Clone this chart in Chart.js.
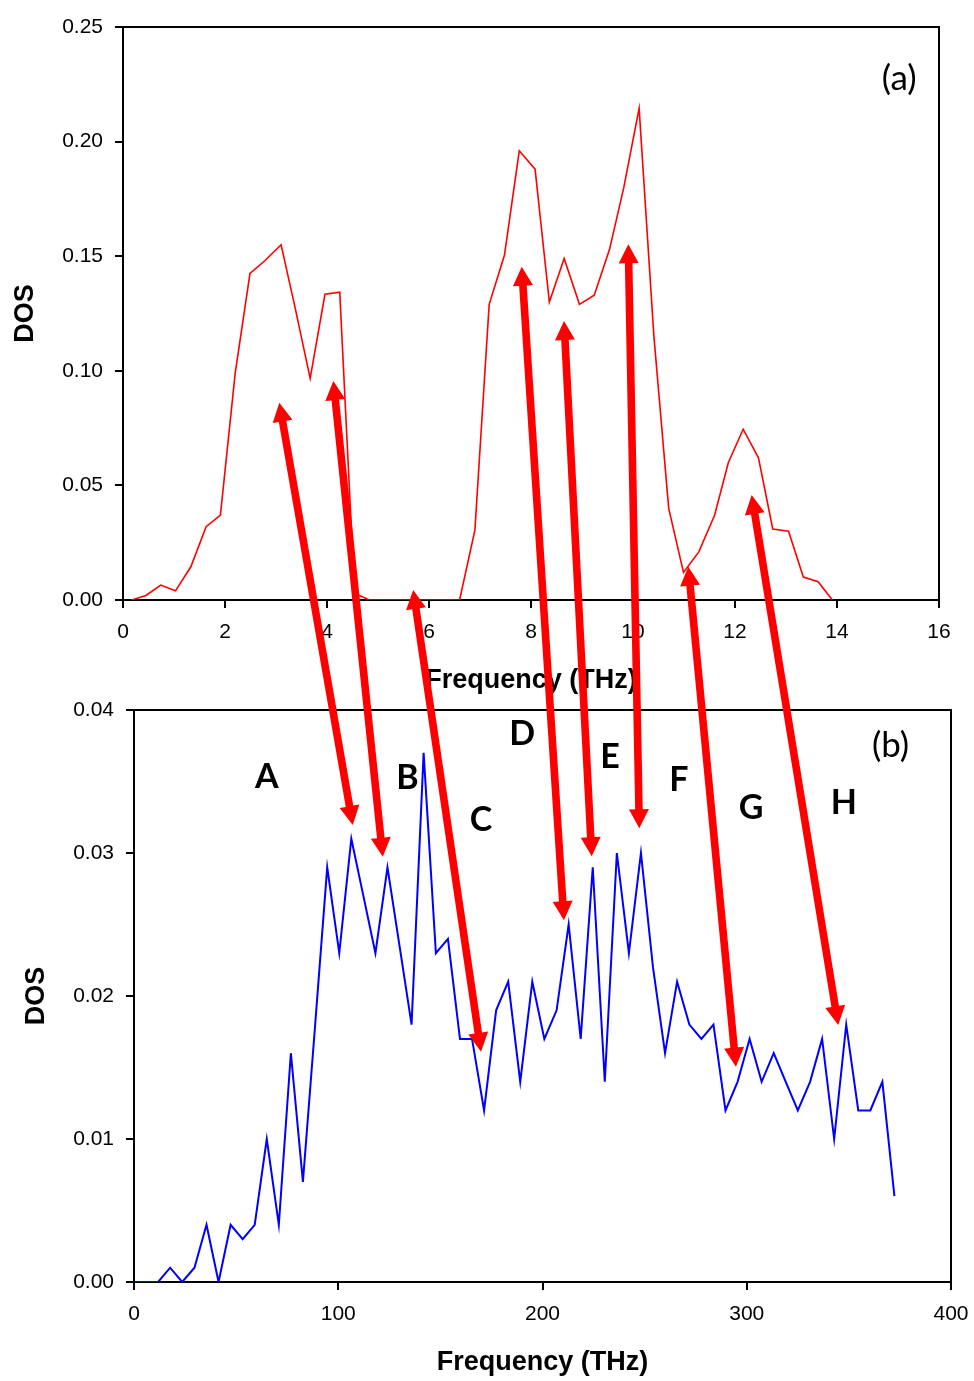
<!DOCTYPE html>
<html><head><meta charset="utf-8">
<script src="https://cdn.jsdelivr.net/npm/chart.js@4.4.1/dist/chart.umd.min.js"></script>
<style>
html,body{margin:0;padding:0;background:#fff;}
#wrap{position:relative;width:974px;height:1381px;overflow:hidden;background:#fff;}
canvas{position:absolute;left:0;}
#c1{top:0;} #c2{top:681px;} #ov{top:0;pointer-events:none;}
</style></head><body>
<div id="wrap">
<canvas id="c1" width="974" height="700"></canvas>
<canvas id="c2" width="974" height="700"></canvas>
<canvas id="ov" width="974" height="1381"></canvas>
</div>
<script>
// ---- Panel (a) data ----
const topFreq = [0.17,0.45,0.74,1.03,1.33,1.63,1.91,2.20,2.49,2.78,3.10,3.37,3.67,3.96,4.25,4.54,4.83,5.12,5.41,5.71,6.00,6.30,6.60,6.90,7.18,7.48,7.77,8.08,8.36,8.65,8.95,9.24,9.54,9.82,10.12,10.41,10.70,10.99,11.29,11.60,11.87,12.16,12.46,12.74,13.05,13.34,13.63,13.91];
const topDos = [0,0.002,0.0065,0.004,0.0145,0.032,0.037,0.099,0.1425,0.148,0.155,0.128,0.0967,0.1334,0.1343,0.003,0,0,0,0,0,0,0,0.0305,0.129,0.1505,0.196,0.188,0.130,0.149,0.129,0.133,0.153,0.180,0.2145,0.115,0.040,0.012,0.021,0.037,0.060,0.0745,0.062,0.031,0.030,0.010,0.008,0];
const topXTicks = [0,2,4,6,8,10,12,14,16];
const topYTicks = [0,0.05,0.10,0.15,0.20,0.25];

// ---- Panel (b) data ----
const botFreq = [0,5.9,11.8,17.7,23.6,29.6,35.5,41.4,47.3,53.2,59.1,65.0,70.9,76.8,82.7,88.7,94.6,100.5,106.4,112.3,118.2,124.1,130.0,135.9,141.8,147.8,153.7,159.6,165.5,171.4,177.3,183.2,189.1,195.0,200.9,206.9,212.8,218.7,224.6,230.5,236.4,242.3,248.2,254.1,260.0,265.9,271.9,277.8,283.7,289.6,295.5,301.4,307.3,313.2,319.1,325.0,331.0,336.9,342.8,348.7,354.6,360.5,366.4,372.3];
const botDos = [0,0,0,0.001,0,0.001,0.004,0,0.004,0.003,0.004,0.010,0.004,0.016,0.007,0.018,0.029,0.023,0.031,0.027,0.023,0.029,0.0235,0.018,0.037,0.023,0.024,0.017,0.017,0.012,0.019,0.021,0.014,0.021,0.017,0.019,0.025,0.017,0.029,0.014,0.030,0.023,0.030,0.022,0.016,0.021,0.018,0.017,0.018,0.012,0.014,0.017,0.014,0.016,0.014,0.012,0.014,0.017,0.010,0.018,0.012,0.012,0.014,0.006];
const botXTicks = [0,100,200,300,400];
const botYTicks = [0,0.01,0.02,0.03,0.04];

// ---- Peak letters (panel b, data coords) ----
const peakNames = ['A','B','C','D','E','F','G','H'];
const peakFreq  = [65.0,133.9,169.9,190.1,233.0,266.8,302.1,347.6];
const peakDos   = [0.03455,0.03445,0.03154,0.03755,0.03594,0.03434,0.03238,0.03273];

// ---- Arrows: tip in panel (a) <-> tip in panel (b) ----
const arrowTopFreq = [3.065,4.124,5.69,7.818,8.647,9.908,11.084,12.327];
const arrowTopDos  = [0.0861,0.0955,0.0044,0.1454,0.1217,0.1552,0.01453,0.0458];
const arrowBotFreq = [107.1,121.8,169.9,210.5,224.1,247.4,294.7,344.8];
const arrowBotDos  = [0.03196,0.02974,0.0161,0.0253,0.02977,0.03173,0.01506,0.01797];

const TICK_FONT = {family:'"Liberation Sans", Arial, sans-serif', size:21};
const TITLE_FONT = {family:'"Liberation Sans", Arial, sans-serif', size:27, weight:'bold'};

function makeAxis(min,max,ticksArr,fmt,isY,fitSize,titleText,titlePad){
  return {
    type:'linear', min:min, max:max,
    afterBuildTicks: s => { s.ticks = ticksArr.map(v => ({value:v})); },
    afterFit: s => {
      if (isY) { s.width = fitSize; s.paddingTop = 0; s.paddingBottom = 0; }
      else { s.height = fitSize; s.paddingLeft = 0; s.paddingRight = 0; }
    },
    ticks:{color:'#000', font:TICK_FONT, padding:12, maxRotation:0, autoSkip:false,
           callback: v => fmt(v)},
    grid:{display:true, drawOnChartArea:false, drawTicks:true, tickLength:8, color:'#000', lineWidth:2},
    border:{display:true, color:'#000', width:2},
    title:{display:true, text:titleText, color:'#000', font:TITLE_FONT, padding:titlePad}
  };
}

const boxPlugin = {
  id:'box',
  afterDraw(chart){
    const {ctx, chartArea:a} = chart;
    ctx.save();
    ctx.strokeStyle = '#000'; ctx.lineWidth = 2;
    ctx.beginPath();
    ctx.moveTo(a.left, a.top); ctx.lineTo(a.right, a.top); ctx.lineTo(a.right, a.bottom);
    ctx.stroke();
    ctx.restore();
  }
};

const panelLabelA = {
  id:'panelA',
  afterDraw(chart){
    const {ctx, scales} = chart;
    ctx.save();
    ctx.fillStyle = '#000';
    ctx.font = '35px Lato, "Open Sans", sans-serif';
    ctx.textAlign = 'center'; ctx.textBaseline = 'alphabetic';
    ctx.fillText('(a)', scales.x.getPixelForValue(15.22), scales.y.getPixelForValue(0.2225));
    ctx.restore();
  }
};

const panelLabelB = {
  id:'panelB',
  afterDraw(chart){
    const {ctx, scales} = chart;
    ctx.save();
    ctx.fillStyle = '#000';
    ctx.textAlign = 'center'; ctx.textBaseline = 'alphabetic';
    ctx.font = '35px Lato, "Open Sans", sans-serif';
    ctx.fillText('(b)', scales.x.getPixelForValue(370.4), scales.y.getPixelForValue(0.03671));
    ctx.font = 'bold 34px Lato, "Open Sans", sans-serif';
    for (let i = 0; i < peakNames.length; i++) {
      ctx.fillText(peakNames[i], scales.x.getPixelForValue(peakFreq[i]), scales.y.getPixelForValue(peakDos[i]));
    }
    ctx.restore();
  }
};

const fmt2 = v => Number(v).toFixed(2);
const fmt0 = v => String(Math.round(v));

const chartA = new Chart(document.getElementById('c1'), {
  type:'line',
  data:{datasets:[{
    data: topFreq.map((f,i) => ({x:f, y:topDos[i]})),
    borderColor:'#ff0000', borderWidth:1.6, pointRadius:0, tension:0, fill:false
  }]},
  options:{
    responsive:false, animation:false, devicePixelRatio:1,
    layout:{padding:{left:0, top:27, right:35, bottom:3}},
    plugins:{legend:{display:false}, tooltip:{enabled:false}},
    scales:{
      x: makeAxis(0,16,topXTicks,fmt0,false,97,'Frequency (THz)',{top:0,bottom:0}),
      y: makeAxis(0,0.25,topYTicks,fmt2,true,123,'DOS',{top:9.4,bottom:0})
    }
  },
  plugins:[boxPlugin, panelLabelA]
});

const chartB = new Chart(document.getElementById('c2'), {
  type:'line',
  data:{datasets:[{
    data: botFreq.map((f,i) => ({x:f, y:botDos[i]})),
    borderColor:'#0000ff', borderWidth:2, pointRadius:0, tension:0, fill:false
  }]},
  options:{
    responsive:false, animation:false, devicePixelRatio:1,
    layout:{padding:{left:0, top:29, right:23, bottom:2}},
    plugins:{legend:{display:false}, tooltip:{enabled:false}},
    scales:{
      x: makeAxis(0,400,botXTicks,fmt0,false,97,'Frequency (THz)',{top:0,bottom:0}),
      y: makeAxis(0,0.04,botYTicks,fmt2,true,134,'DOS',{top:20.4,bottom:0})
    }
  },
  plugins:[boxPlugin, panelLabelB]
});

// ---- Overlay: double-headed arrows linking the two panels ----
function drawArrow(ctx, x1, y1, x2, y2){
  const dx = x2 - x1, dy = y2 - y1, L = Math.hypot(dx, dy);
  const ux = dx / L, uy = dy / L, nx = -uy, ny = ux;
  const hl = 19, hw = 10, sw = 3.8;
  const pts = [
    [x1, y1],
    [x1 + ux*hl + nx*hw, y1 + uy*hl + ny*hw],
    [x1 + ux*hl + nx*sw, y1 + uy*hl + ny*sw],
    [x2 - ux*hl + nx*sw, y2 - uy*hl + ny*sw],
    [x2 - ux*hl + nx*hw, y2 - uy*hl + ny*hw],
    [x2, y2],
    [x2 - ux*hl - nx*hw, y2 - uy*hl - ny*hw],
    [x2 - ux*hl - nx*sw, y2 - uy*hl - ny*sw],
    [x1 + ux*hl - nx*sw, y1 + uy*hl - ny*sw],
    [x1 + ux*hl - nx*hw, y1 + uy*hl - ny*hw]
  ];
  ctx.beginPath();
  ctx.moveTo(pts[0][0], pts[0][1]);
  for (let i = 1; i < pts.length; i++) ctx.lineTo(pts[i][0], pts[i][1]);
  ctx.closePath();
  ctx.fill();
}

(function drawOverlay(){
  const ov = document.getElementById('ov');
  const ctx = ov.getContext('2d');
  const offB = document.getElementById('c2').offsetTop;
  ctx.fillStyle = '#ff0000';
  for (let i = 0; i < arrowTopFreq.length; i++) {
    const x1 = chartA.scales.x.getPixelForValue(arrowTopFreq[i]);
    const y1 = chartA.scales.y.getPixelForValue(arrowTopDos[i]);
    const x2 = chartB.scales.x.getPixelForValue(arrowBotFreq[i]);
    const y2 = chartB.scales.y.getPixelForValue(arrowBotDos[i]) + offB;
    drawArrow(ctx, x1, y1, x2, y2);
  }
})();
</script>
</body></html>
